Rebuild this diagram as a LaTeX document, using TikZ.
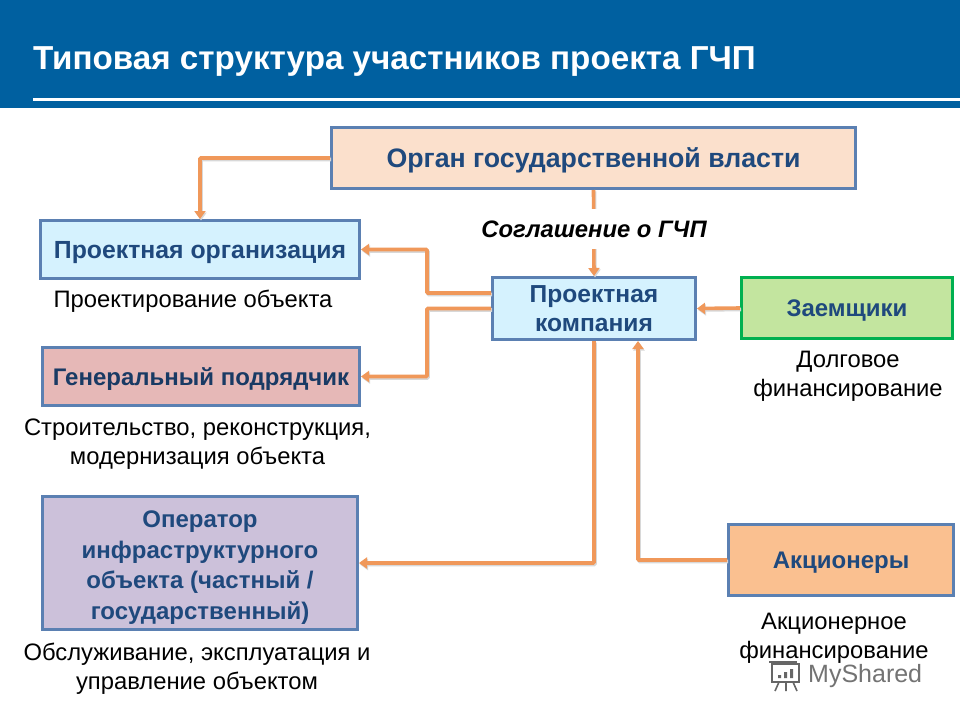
\documentclass[tikz,border=0pt]{standalone}
\usepackage{fontspec}
\setmainfont{Liberation Sans}
\usetikzlibrary{arrows.meta,calc}
\definecolor{hdr}{HTML}{0060A0}
\definecolor{bdr}{HTML}{5B80B2}
\definecolor{ink}{HTML}{1F497D}
\definecolor{conn}{HTML}{F0985A}
\definecolor{shade}{HTML}{D8D8D8}
\definecolor{fpeach}{RGB}{251,224,204}
\definecolor{fblue}{RGB}{213,242,254}
\definecolor{frose}{RGB}{230,184,183}
\definecolor{fviolet}{RGB}{204,193,218}
\definecolor{fgreen}{RGB}{195,229,159}
\definecolor{forange}{RGB}{250,192,144}
\definecolor{bgreen}{RGB}{0,176,80}
\tikzset{
 box/.style={draw=bdr,line width=3pt,inner sep=0pt,align=center,text depth=0pt,font=\fontsize{24}{30}\selectfont\bfseries,text=ink},
 note/.style={align=center,font=\fontsize{23.8}{29}\selectfont,text=black,inner sep=0pt},
 link/.style={draw=conn,line width=3.6pt,rounded corners=1pt,-{Triangle[length=8pt,width=11pt]},
   preaction={draw=shade,line width=3.6pt,transform canvas={shift={(1pt,-1.5pt)}}}},
}
\begin{document}
\begin{tikzpicture}[x=1pt,y=-1pt]
\useasboundingbox (0,0) rectangle (960,720);
\fill[white] (0,0) rectangle (960,720);
\fill[hdr] (0,0) rectangle (960,108);
\fill[white] (33,97.5) rectangle (960,100.5);
\node[anchor=base west,inner sep=0pt,text=white,font=\fontsize{33.2}{36}\selectfont\bfseries] (title) at (33,69.5) {Типовая структура участников проекта ГЧП};

\node[box,fill=fpeach,minimum width=524pt,minimum height=61pt,font=\fontsize{26.7}{30}\selectfont\bfseries] (organ) at (593.5,158) {Орган государственной власти};
\node[box,fill=fblue,minimum width=319pt,minimum height=58pt,font=\fontsize{24.8}{30}\selectfont\bfseries] (po) at (200,249.5) {Проектная организация};
\node[box,fill=frose,minimum width=317pt,minimum height=58pt,text=ink!80!black] (gen) at (201,376.5) {Генеральный подрядчик};
\node[box,fill=fviolet,minimum width=315pt,minimum height=133pt,font=\fontsize{24}{30.5}\selectfont\bfseries] (oper) at (200,563) {\rule{0pt}{21pt}Оператор\\инфраструктурного\\объекта (частный /\\государственный)};
\node[box,fill=fblue,minimum width=203pt,minimum height=62pt,font=\fontsize{24.6}{29.5}\selectfont\bfseries] (comp) at (594,308.5) {Проектная\\компания};
\node[box,draw=bgreen,fill=fgreen,minimum width=211pt,minimum height=61pt] (zaem) at (847,308) {Заемщики};
\node[box,fill=forange,minimum width=225pt,minimum height=71pt] (akc) at (841,560) {Акционеры};

\coordinate (cup) at ($(comp.west)+(0,-15.5)$);
\coordinate (cs) at ($(comp.south)+(44,0)$);

\draw[link] (organ.west) -| (po.north);
\draw[link] (cup) -- ++(-64,0) |- (po.east);
\draw[link] (comp.west) -- ++(-64,0) |- (gen.east);
\draw[link] (zaem.west) -- (comp.east);
\draw[link] (comp.south) |- (oper.east);
\draw[link] (akc.west) -| (cs);
\draw[link] (organ.south) -- (comp.north);

\node[inner sep=0pt,fill=white,anchor=base,font=\fontsize{23.8}{24}\selectfont\bfseries\itshape,text=black,text height=28pt,text depth=12pt] (agr) at (594,237) {Соглашение о ГЧП};

\node[note] (n1) at (193,301) {Проектирование объекта};
\node[note] (n2) at (197.5,444) {Строительство, реконструкция,\\модернизация объекта};
\node[note] (n3) at (197,669) {Обслуживание, эксплуатация и\\управление объектом};
\node[note] (n4) at (848,376) {Долговое\\финансирование};
\node[note] (n5) at (834,638) {Акционерное\\финансирование};

\node[anchor=base west,inner sep=0pt,text=black!55,font=\fontsize{25}{28}\selectfont] (wm) at (808,682) {MyShared};
\begin{scope}[draw=black!60,line width=1.6pt]
\draw (772,664) rectangle (799,682);
\draw (769,662) -- (797,662);
\draw (779,682) -- (775,691) (786,682) -- (786,691) (793,682) -- (797,691);
\fill[black!60] (778,675) rectangle (781,678) (784,672) rectangle (787,678) (790,669) rectangle (793,678);
\end{scope}
\end{tikzpicture}
\end{document}
